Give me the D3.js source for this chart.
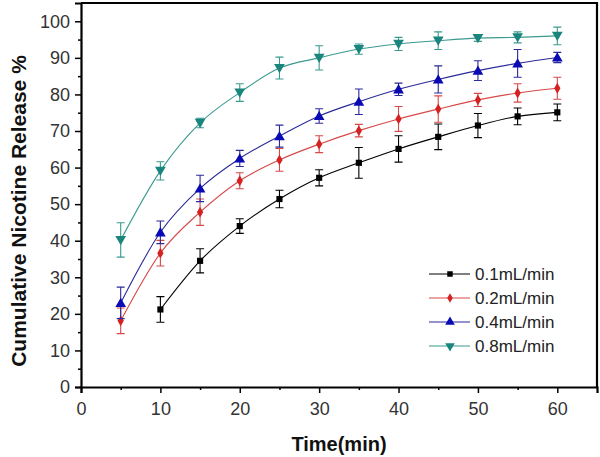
<!DOCTYPE html>
<html><head><meta charset="utf-8">
<script src="https://cdn.jsdelivr.net/npm/d3@7/dist/d3.min.js"></script>
<style>body{margin:0;background:#fff}svg{display:block}</style>
</head><body>
<svg id="c" width="600" height="457"></svg>
<script>
const times = [5,10,15,20,25,30,35,40,45,50,55,60];
const seriesNames = ["0.1mL/min","0.2mL/min","0.4mL/min","0.8mL/min"];
const s01 = [null,21.2,34.5,44.0,51.4,57.2,61.3,65.1,68.4,71.5,74.0,75.1];
const e01 = [null,3.5,3.3,2.0,2.4,2.2,4.2,3.6,3.5,3.3,2.3,2.3];
const s02 = [18.1,36.6,47.8,56.4,62.1,66.4,70.1,73.3,76.0,78.5,80.4,81.7];
const e02 = [3.5,3.5,3.6,2.2,3.1,2.3,1.7,3.4,3.6,1.8,2.5,3.0];
const s04 = [23.0,42.3,54.3,62.5,68.6,74.1,78.0,81.4,84.1,86.5,88.5,90.1];
const e04 = [4.3,3.1,3.6,2.2,3.0,2.0,3.5,1.7,3.7,2.7,3.8,1.4];
const s08 = [40.2,59.1,72.2,80.5,87.2,90.0,92.4,93.8,94.7,95.4,95.6,96.0];
const e08 = [4.7,2.5,1.3,2.4,3.0,3.3,1.4,1.8,2.4,0.9,1.5,2.4];
const xTicks = [0,10,20,30,40,50,60];
const yTicks = [0,10,20,30,40,50,60,70,80,90,100];

const series = [
  {name:seriesNames[0], v:s01, e:e01, mark:"#000000", line:"#000000", sym:d3.symbolSquare, size:38},
  {name:seriesNames[1], v:s02, e:e02, mark:"#d42222", line:"#d84848", sym:d3.symbolDiamond, size:34},
  {name:seriesNames[2], v:s04, e:e04, mark:"#0a0ab4", line:"#2a2a9a", sym:d3.symbolTriangle, size:50, rot:0},
  {name:seriesNames[3], v:s08, e:e08, mark:"#1a857c", line:"#3a9a90", sym:d3.symbolTriangle, size:50, rot:180}
];

const svg = d3.select("#c");
const L=81, R=597, T=3, B=387;
const x = d3.scaleLinear().domain([0,65]).range([L,R]);
const y = d3.scaleLinear().domain([0,105]).range([B,T]);

svg.append("path").attr("d",`M${L},${T}H${R}V${B}`).attr("fill","none").attr("stroke","#000").attr("stroke-width",2.2);

const xAxis = svg.append("g").attr("transform",`translate(0,${B})`)
  .call(d3.axisBottom(x).tickValues(xTicks).tickSize(6).tickPadding(9).tickFormat(d3.format("d")));
const xMinor = svg.append("g").attr("transform",`translate(0,${B})`)
  .call(d3.axisBottom(x).tickValues(d3.range(5,65,10)).tickSize(3).tickFormat(""));
const yAxis = svg.append("g").attr("transform",`translate(${L},0)`)
  .call(d3.axisLeft(y).tickValues(yTicks).tickSize(6).tickPadding(5).tickFormat(d3.format("d")));
const yMinor = svg.append("g").attr("transform",`translate(${L},0)`)
  .call(d3.axisLeft(y).tickValues(d3.range(5,105,10)).tickSize(3).tickFormat(""));
[xAxis,xMinor,yAxis,yMinor].forEach(g=>{
  g.select(".domain").attr("stroke","#000").attr("stroke-width",2.2);
  g.selectAll(".tick line").attr("stroke","#000").attr("stroke-width",1.5);
  g.selectAll(".tick text").attr("fill","#333").attr("font-family","Liberation Sans, Arial, sans-serif").attr("font-size","18px");
});
xMinor.select(".domain").remove(); yMinor.select(".domain").remove();

svg.append("text").attr("x",(L+R)/2).attr("y",444).attr("text-anchor","middle").attr("dominant-baseline","central")
  .attr("font-family","Liberation Sans, Arial, sans-serif").attr("font-weight","bold").attr("font-size","20px").attr("fill","#111")
  .text("Time(min)");
svg.append("text").attr("transform",`translate(18,${(T+B)/2+16}) rotate(-90)`).attr("text-anchor","middle").attr("dominant-baseline","central")
  .attr("font-family","Liberation Sans, Arial, sans-serif").attr("font-weight","bold").attr("font-size","21px").attr("fill","#111")
  .text("Cumulative Nicotine Release %");

const plot = svg.append("g");
series.forEach(s=>{
  const pts = times.map((t,i)=>({t, v:s.v[i], e:s.e[i]})).filter(p=>p.v!==null);
  const g = plot.append("g");
  g.append("path").datum(pts).attr("fill","none").attr("stroke",s.line).attr("stroke-width",1.1)
    .attr("d",d3.line().x(p=>x(p.t)).y(p=>y(p.v)).curve(d3.curveMonotoneX));
  pts.forEach(p=>{
    const cx=x(p.t), yt=y(p.v+p.e), yb=y(p.v-p.e);
    g.append("path").attr("d",`M${cx},${yt}V${yb}M${cx-4},${yt}H${cx+4}M${cx-4},${yb}H${cx+4}`)
      .attr("stroke",s.line).attr("stroke-width",1.1).attr("fill","none");
  });
  g.selectAll(".m").data(pts).join("path")
    .attr("d",d3.symbol().type(s.sym).size(s.size))
    .attr("transform",p=>`translate(${x(p.t)},${y(p.v)+(s.rot===180?-1:(s.rot===0?1:0))}) rotate(${s.rot||0})`)
    .attr("fill",s.mark);
});

const lg = svg.append("g");
series.forEach((s,i)=>{
  const yy = 274 + i*24;
  lg.append("line").attr("x1",429).attr("x2",470).attr("y1",yy).attr("y2",yy).attr("stroke",s.line).attr("stroke-width",1.1);
  lg.append("path").attr("d",d3.symbol().type(s.sym).size(s.size*0.8)).attr("transform",`translate(450,${yy}) rotate(${s.rot||0})`).attr("fill",s.mark);
  lg.append("text").attr("x",475).attr("y",yy).attr("dominant-baseline","central")
    .attr("font-family","Liberation Sans, Arial, sans-serif").attr("font-size","17px").attr("fill","#222").text(s.name);
});
</script>
</body></html>
